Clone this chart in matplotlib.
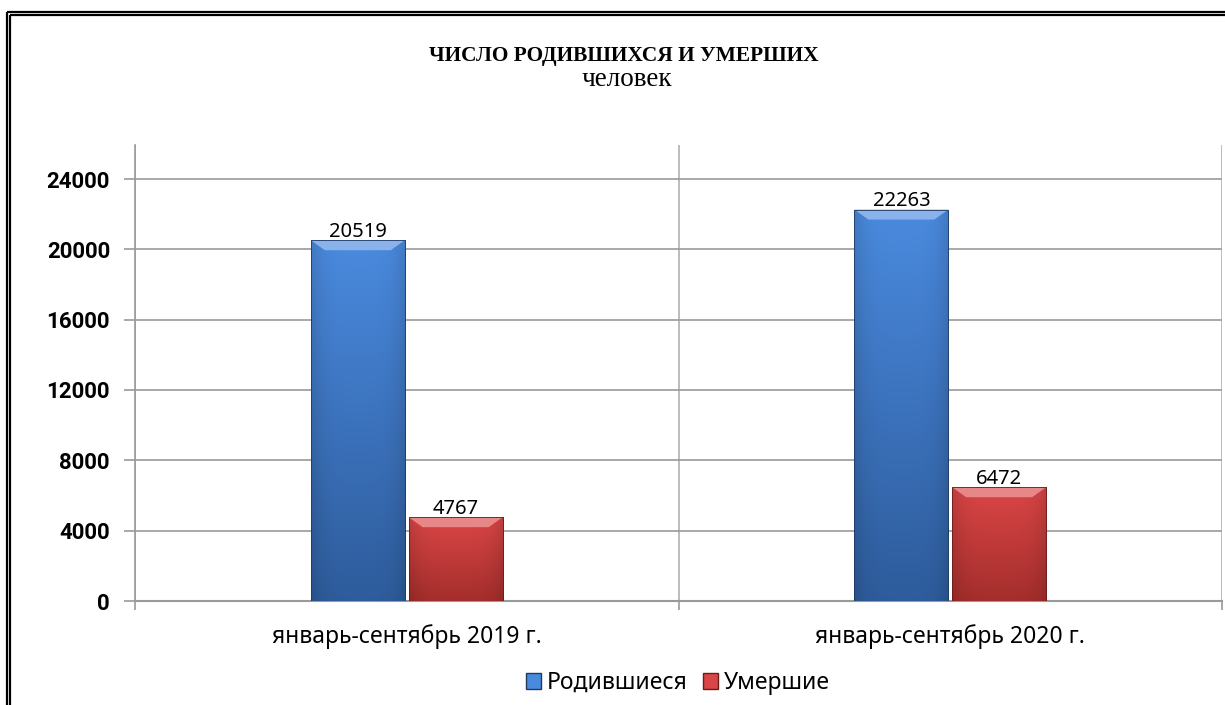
import numpy as np
import matplotlib
matplotlib.use("Agg")
import matplotlib.pyplot as plt
from matplotlib.lines import Line2D
from matplotlib.patches import Patch, Polygon, Rectangle

categories = ["январь-сентябрь 2019 г.", "январь-сентябрь 2020 г."]
born = [20519, 22263]
died = [4767, 6472]
series_names = ["Родившиеся", "Умершие"]
yticks = [0, 4000, 8000, 12000, 16000, 20000, 24000]

BLUE_TOP, BLUE_BOT, BLUE_EDGE = "#4a8ade", "#2e5c9c", "#1f3a60"
RED_TOP, RED_BOT, RED_EDGE = "#da4646", "#a42e2c", "#6a1c1c"

plt.rcParams['font.family'] = ['Noto Sans', 'DejaVu Sans']

fig = plt.figure(figsize=(12.25, 7.05), dpi=100)
ax = fig.add_axes([135 / 1225, 1 - 601 / 705, 1087 / 1225, 456 / 705])

x = np.arange(len(categories))
w = 0.173
off = 0.09
ymax = 24000 * 456 / 422


def gradient_bar(ax, xc, h, top, bot, edge):
    # bar body: vertical gradient, a bit darker towards the sides, light bevel on top
    c1 = np.array(matplotlib.colors.to_rgb(top))
    c2 = np.array(matplotlib.colors.to_rgb(bot))
    t = np.linspace(0, 1, 64)[:, None, None]
    u = np.linspace(-1, 1, 48)[None, :, None]
    img = (c2 * (1 - t) + c1 * t) * (1 - 0.12 * u ** 4)
    bar = ax.bar(xc, h, w, color=top, edgecolor=edge, linewidth=0.6, zorder=3)[0]
    im = ax.imshow(np.clip(img, 0, 1), extent=[xc - w / 2, xc + w / 2, 0, h], aspect="auto",
                   origin="lower", zorder=3.5)
    im.set_clip_path(bar)
    bev_h = ymax * 10 / 456
    bev_w = w * 14 / 94
    light = c1 + (1 - c1) * 0.35
    ax.add_patch(Polygon([[xc - w / 2, h], [xc + w / 2, h],
                          [xc + w / 2 - bev_w, h - bev_h], [xc - w / 2 + bev_w, h - bev_h]],
                         closed=True, facecolor=light, edgecolor="none", zorder=4))
    ax.add_patch(Rectangle((xc - w / 2, 0), w, h, fill=False,
                           edgecolor=edge, linewidth=0.6, zorder=4.5))
    return bar


for i in range(len(categories)):
    gradient_bar(ax, x[i] - off, born[i], BLUE_TOP, BLUE_BOT, BLUE_EDGE)
    gradient_bar(ax, x[i] + off, died[i], RED_TOP, RED_BOT, RED_EDGE)
    ax.annotate(str(born[i]), (x[i] - off, born[i]), xytext=(0, -1), textcoords="offset points",
                ha="center", va="bottom", fontsize=14.5, zorder=5)
    ax.annotate(str(died[i]), (x[i] + off, died[i]), xytext=(0, -1), textcoords="offset points",
                ha="center", va="bottom", fontsize=14.5, zorder=5)

ax.set_xlim(-0.5, 1.5)
ax.set_ylim(0, ymax)
ax.set_yticks(yticks)
ax.set_yticklabels([str(v) for v in yticks], fontsize=16, fontweight="bold",
                   family=["Roboto", "DejaVu Sans"])
ax.yaxis.grid(True, color="#9a9a9a", linewidth=1.2, zorder=0)
for b in [-0.5, 0.5, 1.5]:
    ax.axvline(b, color="#b0b0b0", linewidth=1.2, zorder=0)

ax.set_xticks([-0.5, 0.5, 1.5])
ax.set_xticklabels([])
ax.set_xticks(x, minor=True)
ax.set_xticklabels(categories, minor=True, fontsize=16.5)
ax.tick_params(axis="x", which="minor", length=0, pad=17)
ax.tick_params(axis="x", which="major", length=6.5, color="#9a9a9a", width=1.2)
ax.tick_params(axis="y", length=8, color="#9a9a9a", width=1.2, pad=10)

for s in ["top", "right"]:
    ax.spines[s].set_visible(False)
ax.spines["left"].set_color("#9a9a9a")
ax.spines["bottom"].set_color("#9a9a9a")
ax.spines["left"].set_linewidth(1.2)
ax.spines["bottom"].set_linewidth(1.5)

fig.text(624 / 1225, 1 - 61 / 705, "ЧИСЛО РОДИВШИХСЯ И УМЕРШИХ", ha="center", va="baseline",
         fontsize=15.4, fontweight="bold", family="Liberation Serif")
fig.text(627 / 1225, 1 - 86 / 705, "человек", ha="center", va="baseline",
         fontsize=19.5, family="Liberation Serif")

handles = [Patch(facecolor=BLUE_TOP, edgecolor=BLUE_EDGE),
           Patch(facecolor=RED_TOP, edgecolor=RED_EDGE)]
fig.legend(handles, series_names, loc="center", bbox_to_anchor=(678 / 1225, 1 - 683 / 705),
           ncol=2, frameon=False, fontsize=16.5, handlelength=0.65, handleheight=0.65,
           handletextpad=0.25, columnspacing=0.7)

# double page border (top and left)
for px in [12, 15]:
    pxl = px - 5
    fig.add_artist(Line2D([pxl / 1225, 1], [1 - px / 705, 1 - px / 705], color="black", lw=1.6,
                          solid_capstyle="butt", transform=fig.transFigure))
    fig.add_artist(Line2D([pxl / 1225, pxl / 1225], [0, 1 - px / 705], color="black", lw=1.6,
                          solid_capstyle="butt", transform=fig.transFigure))

fig.savefig("out.png", dpi=100)
